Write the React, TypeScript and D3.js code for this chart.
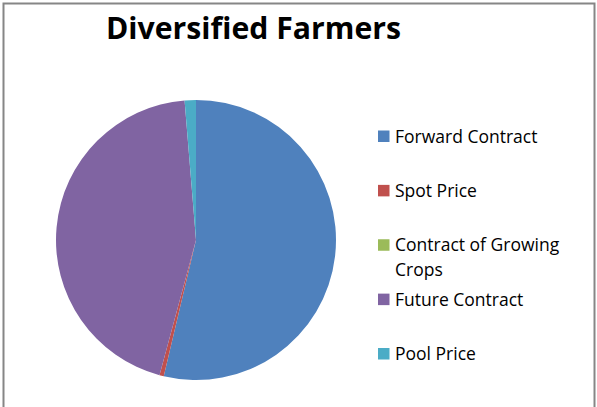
import * as d3 from 'd3';
import { useEffect, useRef } from 'react';

const categories = ['Forward Contract', 'Spot Price', 'Contract of Growing Crops', 'Future Contract', 'Pool Price'];
const values = [53.7, 0.5, 0, 44.5, 1.3];
const colors = ['#4F81BD', '#C0504D', '#9BBB59', '#8064A2', '#4BACC6'];
// legend labels split into lines as in the chart
const legendLines = [['Forward Contract'], ['Spot Price'], ['Contract of Growing', 'Crops'], ['Future Contract'], ['Pool Price']];

const W = 597;
const H = 407;

export default function App() {
  const ref = useRef<SVGSVGElement>(null);

  useEffect(() => {
    if (!ref.current) return;
    const svg = d3.select(ref.current);
    svg.selectAll('*').remove();

    const font = '"Open Sans", "Noto Sans", sans-serif';

    // frame
    svg
      .append('rect')
      .attr('x', 3.5)
      .attr('y', 3.5)
      .attr('width', 591)
      .attr('height', 410)
      .attr('fill', '#fff')
      .attr('stroke', '#868686')
      .attr('stroke-width', 2);

    svg
      .append('text')
      .text('Diversified Farmers')
      .attr('x', 253.5)
      .attr('y', 38.5)
      .attr('text-anchor', 'middle')
      .attr('font-family', font)
      .attr('font-weight', 'bold')
      .attr('font-size', 29.5)
      .attr('textLength', 295)
      .attr('lengthAdjust', 'spacingAndGlyphs')
      .attr('fill', '#000');

    const data = categories.map((c, i) => ({ name: c, value: values[i], color: colors[i] }));
    const pie = d3
      .pie<{ name: string; value: number; color: string }>()
      .sort(null)
      .value((d) => d.value);
    const arc = d3
      .arc<d3.PieArcDatum<{ name: string; value: number; color: string }>>()
      .innerRadius(0)
      .outerRadius(140);

    const g = svg.append('g').attr('transform', 'translate(196,240)');
    g.selectAll('path')
      .data(pie(data))
      .join('path')
      .attr('d', arc)
      .attr('fill', (d) => d.data.color);

    // legend
    const ly = d3.scalePoint<string>().domain(categories).range([136.5, 354]);
    const legend = svg.append('g');
    categories.forEach((c, i) => {
      const y = ly(c) ?? 0;
      legend
        .append('rect')
        .attr('x', 378)
        .attr('y', y - 6)
        .attr('width', 11.5)
        .attr('height', 11.5)
        .attr('fill', colors[i]);
      const t = legend
        .append('text')
        .attr('x', 395)
        .attr('y', y + 6)
        .attr('font-family', font)
        .attr('font-size', 17.5)
        .attr('fill', '#000');
      legendLines[i].forEach((line, j) => {
        t.append('tspan').attr('x', 395).attr('dy', j === 0 ? 0 : 25).text(line);
      });
    });
  }, []);

  return (
    <svg
      ref={ref}
      width={W}
      height={H}
      style={{ position: 'absolute', left: 0, top: 0, display: 'block', background: '#fff' }}
    />
  );
}
